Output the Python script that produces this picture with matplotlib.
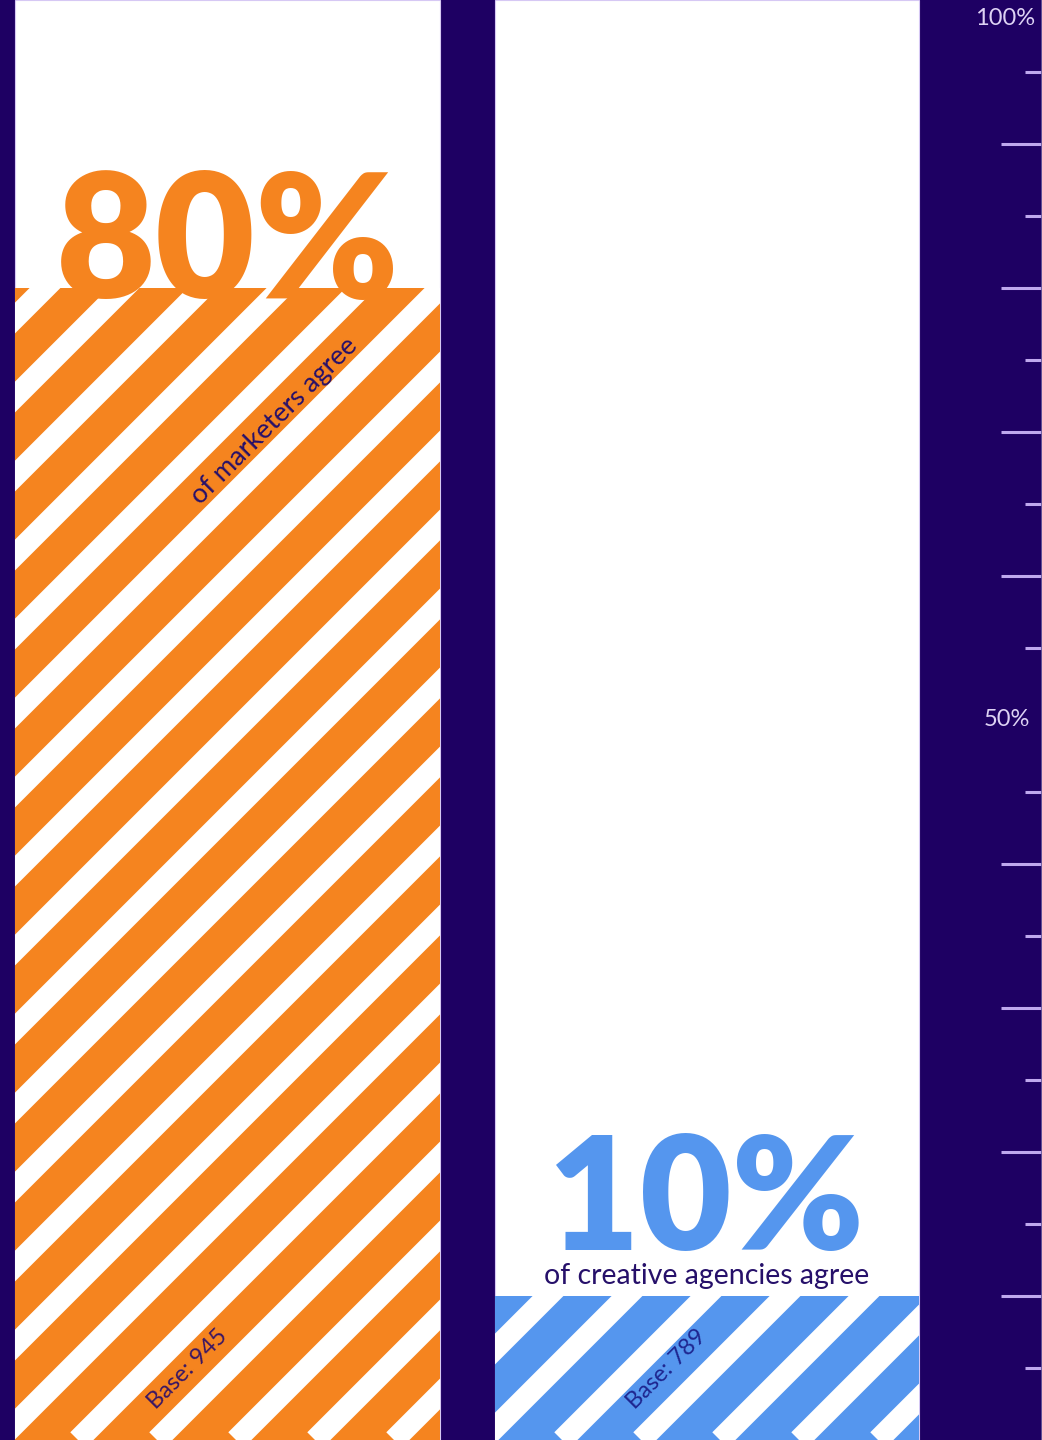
import numpy as np
import matplotlib
matplotlib.use("Agg")
import matplotlib.pyplot as plt
from matplotlib.collections import LineCollection

# Survey results
groups = ["marketers", "creative agencies"]
values = [80, 10]
bases = [945, 789]
big_labels = ["80%", "10%"]
sub_labels = ["of marketers agree", "of creative agencies agree"]
scale_labels = ["100%", "50%"]

NAVY = "#1e0063"
ORANGE = "#f5841f"
BLUE = "#5596ee"
LAVENDER = "#bfa8ee"
TEXT_DARK = "#26106a"
colors = [ORANGE, BLUE]
base_colors = ["#3a1764", "#1e2690"]

W_PX, H_PX, DPI = 1042, 1440, 100
fig = plt.figure(figsize=(W_PX / DPI, H_PX / DPI), dpi=DPI)
fig.patch.set_facecolor(NAVY)
ax = fig.add_axes([0, 0, 1, 1])
ax.set_facecolor(NAVY)

positions = np.arange(len(groups))
unit_px = 479.0
bar_w = 424.0 / unit_px
left = -227.5 / unit_px
ax.set_xlim(left, left + W_PX / unit_px)
ax.set_ylim(0, 100)

# full-scale white columns
ax.bar(positions, [100] * len(groups), width=bar_w, color="white",
       edgecolor="#d6c8f4", linewidth=0.8, zorder=1)

# value bars with diagonal white stripes
bars = ax.bar(positions, values, width=bar_w, color=colors, linewidth=0, zorder=2)

angle = np.deg2rad(45)
period_in = 0.79          # horizontal stripe spacing (inches)
phases_in = [0.78, 0.09]
gap_frac = 0.39
lw_pt = gap_frac * period_in * np.sin(angle) * 72
L = 30
for b, ph in zip(bars, phases_in):
    segs = []
    for k in range(-40, 20):
        x0 = ph + k * period_in
        segs.append([(x0, 0), (x0 + L * np.cos(angle), L * np.sin(angle))])
    lc = LineCollection(segs, colors="white", linewidths=lw_pt,
                        transform=fig.dpi_scale_trans, zorder=3)
    ax.add_collection(lc)
    lc.set_clip_path(b)

font = "Lato"
# headline percentages
ax.text(positions[0], values[0] - 0.7, big_labels[0], ha="center", va="baseline",
        fontsize=124, fontweight="heavy", family=font, color=ORANGE, zorder=4)
ax.text(positions[1], values[1] + 3.2, big_labels[1], ha="center", va="baseline",
        fontsize=114, fontweight="heavy", family=font, color=BLUE, zorder=4)

# subtitles
ax.text(positions[0] + 47 / unit_px, 70.8, sub_labels[0], ha="center", va="center",
        rotation=45, rotation_mode="anchor", fontsize=19.5, family=font,
        color=TEXT_DARK, zorder=4)
ax.text(positions[1], 11.4, sub_labels[1], ha="center", va="center",
        fontsize=20.5, family=font, color=TEXT_DARK, zorder=4)

# sample sizes
for p, n, c in zip(positions, bases, base_colors):
    ax.text(p - 40 / unit_px, 4.9, f"Base: {n}", ha="center", va="center",
            rotation=45, rotation_mode="anchor", fontsize=17, family=font,
            color=c, zorder=4)

# right-hand percentage scale
ax.yaxis.tick_right()
ax.set_yticks([10, 20, 30, 40, 60, 70, 80, 90])
ax.set_yticks(np.arange(5, 100, 10), minor=True)
ax.tick_params(axis="y", which="major", direction="in", length=41 * 72 / DPI,
               width=2.2, color=LAVENDER, labelright=False, labelleft=False)
ax.tick_params(axis="y", which="minor", direction="in", length=17 * 72 / DPI,
               width=2.2, color=LAVENDER)
ax.tick_params(axis="x", bottom=False, labelbottom=False)
for side in ["top", "bottom", "left"]:
    ax.spines[side].set_visible(False)
ax.spines["right"].set_color("#6a5a9c")
ax.spines["right"].set_linewidth(2)

ax.annotate(scale_labels[0], xy=(0.9935, 100), xycoords=("axes fraction", "data"),
            xytext=(0, -6), textcoords="offset points", ha="right", va="top",
            fontsize=17, family=font, color="#ddd2f4")
ax.annotate(scale_labels[1], xy=(0.9885, 50), xycoords=("axes fraction", "data"),
            ha="right", va="center",
            fontsize=17, family=font, color="#ddd2f4")

fig.savefig("out.png", dpi=DPI, facecolor=NAVY)
